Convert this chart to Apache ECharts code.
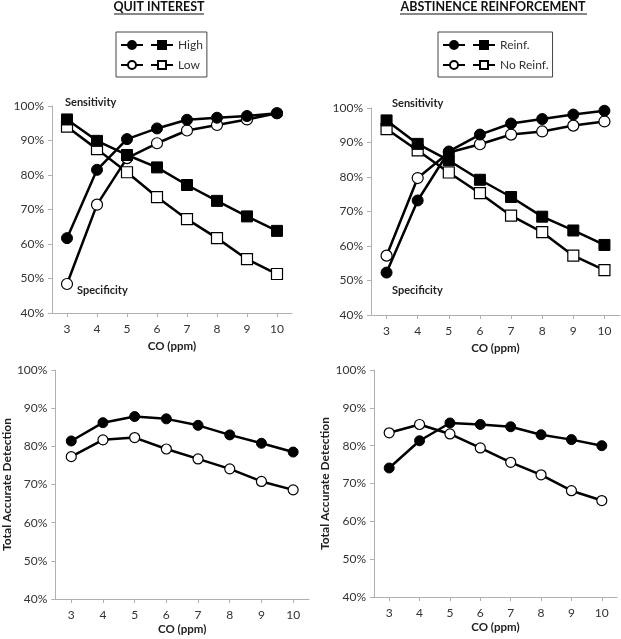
<!DOCTYPE html>
<html>
<head>
<meta charset="utf-8">
<script src="https://cdn.jsdelivr.net/npm/echarts@6/dist/echarts.min.js"></script>
<style>
  html, body { margin: 0; padding: 0; background: #fff; }
  #main { width: 621px; height: 639px; }
</style>
</head>
<body>
<div id="main"></div>
<script>
  // CO cut-off levels (ppm)
  var coLevels = ['3', '4', '5', '6', '7', '8', '9', '10'];
  var yTicks = [40, 50, 60, 70, 80, 90, 100];

  // quit interest - sensitivity / specificity
  var quitHighSens = [61.7, 81.5, 90.4, 93.5, 96.0, 96.6, 97.1, 97.9];
  var quitLowSens = [48.4, 71.4, 84.9, 89.2, 92.9, 94.5, 96.1, 97.9];
  var quitHighSpec = [96.1, 89.9, 85.8, 82.2, 77.1, 72.5, 68.0, 63.8];
  var quitLowSpec = [94.0, 87.5, 80.8, 73.6, 67.2, 61.7, 55.6, 51.3];

  // abstinence reinforcement - sensitivity / specificity
  var reinfSens = [52.3, 73.2, 87.4, 92.3, 95.5, 96.8, 98.1, 99.2];
  var noReinfSens = [57.2, 79.7, 87.1, 89.5, 92.3, 93.2, 94.9, 96.1];
  var reinfSpec = [96.4, 89.6, 84.8, 79.2, 74.2, 68.5, 64.5, 60.3];
  var noReinfSpec = [93.9, 87.7, 81.3, 75.3, 68.8, 64.0, 57.2, 53.0];

  // total accurate detection
  var quitHighTotal = [81.4, 86.2, 87.8, 87.2, 85.5, 83.0, 80.8, 78.5];
  var quitLowTotal = [77.3, 81.7, 82.3, 79.3, 76.7, 74.1, 70.8, 68.6];
  var reinfTotal = [74.1, 81.3, 86.0, 85.6, 85.0, 82.9, 81.6, 80.0];
  var noReinfTotal = [83.4, 85.6, 83.1, 79.4, 75.6, 72.3, 68.1, 65.5];

  var FONT = 'Lato, "Open Sans", sans-serif';
  var axisGray = '#b0b0b0';

  function xAxisFor(idx, gap) {
    return {
      type: 'category',
      gridIndex: idx,
      data: coLevels,
      boundaryGap: true,
      name: 'CO (ppm)',
      nameLocation: 'middle',
      nameGap: gap,
      nameTextStyle: { fontFamily: FONT, fontWeight: 'bold', fontSize: 11.5, color: '#222' },
      axisLine: { lineStyle: { color: axisGray, width: 1 } },
      axisTick: { show: true, alignWithLabel: true, length: 4, lineStyle: { color: axisGray } },
      axisLabel: { fontFamily: FONT, fontSize: 12, color: '#333', margin: 10 },
      splitLine: { show: false }
    };
  }

  function yAxisFor(idx, title) {
    return {
      type: 'value',
      gridIndex: idx,
      min: yTicks[0],
      max: yTicks[yTicks.length - 1],
      interval: 10,
      name: title || '',
      nameLocation: 'middle',
      nameGap: 40,
      nameTextStyle: { fontFamily: FONT, fontWeight: 'bold', fontSize: 12, color: '#222' },
      axisLine: { show: true, lineStyle: { color: axisGray, width: 1 } },
      axisTick: { show: true, length: 4, lineStyle: { color: axisGray } },
      axisLabel: { fontFamily: FONT, fontSize: 12, color: '#333', margin: 8, formatter: '{value}%' },
      splitLine: { show: false }
    };
  }

  function line(name, data, idx, symbol, filled, size) {
    return {
      name: name,
      type: 'line',
      xAxisIndex: idx,
      yAxisIndex: idx,
      data: data,
      symbol: symbol,
      symbolSize: size || 10,
      showAllSymbol: true,
      lineStyle: { color: '#000', width: 2.5 },
      itemStyle: filled
        ? { color: '#000', borderColor: '#000', borderWidth: 1 }
        : { color: '#fff', borderColor: '#000', borderWidth: 1.2 },
      emphasis: { disabled: true },
      z: filled ? 3 : 2
    };
  }

  var legendText = { fontFamily: FONT, fontSize: 12, color: '#333', lineHeight: 18 };

  var chart = echarts.init(document.getElementById('main'), null, { renderer: 'canvas' });
  var option = {
    animation: false,
    backgroundColor: '#fff',
    title: [
      { text: 'QUIT INTEREST', left: 159, textAlign: 'center', top: 0, padding: 0,
        textStyle: { fontFamily: FONT, fontWeight: 'bold', fontSize: 12.5, color: '#111' } },
      { text: 'ABSTINENCE REINFORCEMENT', left: 493, textAlign: 'center', top: 0, padding: 0,
        textStyle: { fontFamily: FONT, fontWeight: 'bold', fontSize: 12.5, color: '#111' } }
    ],
    legend: [
      {
        left: 116, top: 32, width: 84, orient: 'horizontal',
        padding: [4, 4, 3, 4], itemGap: 2, itemWidth: 22, itemHeight: 10,
        borderColor: '#444', borderWidth: 1,
        selectedMode: false,
        data: ['High sensitivity', 'High specificity', 'Low sensitivity', 'Low specificity'],
        formatter: function (n) {
          if (n === 'High specificity') return 'High';
          if (n === 'Low specificity') return 'Low';
          return '';
        },
        textStyle: legendText
      },
      {
        left: 438, top: 32, width: 110, orient: 'horizontal',
        padding: [4, 4, 3, 4], itemGap: 2, itemWidth: 22, itemHeight: 10,
        borderColor: '#444', borderWidth: 1,
        selectedMode: false,
        data: ['Reinf. sensitivity', 'Reinf. specificity', 'No Reinf. sensitivity', 'No Reinf. specificity'],
        formatter: function (n) {
          if (n === 'Reinf. specificity') return 'Reinf.';
          if (n === 'No Reinf. specificity') return 'No Reinf.';
          return '';
        },
        textStyle: legendText
      }
    ],
    grid: [
      { left: 52, top: 106, width: 240, height: 207 },
      { left: 371, top: 108, width: 249, height: 207 },
      { left: 53, top: 370, width: 256, height: 229 },
      { left: 374, top: 370, width: 243, height: 227 }
    ],
    xAxis: [xAxisFor(0, 27), xAxisFor(1, 27), xAxisFor(2, 24), xAxisFor(3, 24)],
    yAxis: [yAxisFor(0), yAxisFor(1), yAxisFor(2, 'Total Accurate Detection'), yAxisFor(3, 'Total Accurate Detection')],
    graphic: [
      { type: 'line', shape: { x1: 114, y1: 14, x2: 204, y2: 14 }, style: { stroke: '#111', lineWidth: 1 } },
      { type: 'line', shape: { x1: 400, y1: 14, x2: 587, y2: 14 }, style: { stroke: '#111', lineWidth: 1 } },
      { type: 'text', left: 65, top: 97, style: { text: 'Sensitivity', font: 'bold 11px ' + FONT, fill: '#222' } },
      { type: 'text', left: 77, top: 285, style: { text: 'Specificity', font: 'bold 11px ' + FONT, fill: '#222' } },
      { type: 'text', left: 392, top: 98, style: { text: 'Sensitivity', font: 'bold 11px ' + FONT, fill: '#222' } },
      { type: 'text', left: 392, top: 285, style: { text: 'Specificity', font: 'bold 11px ' + FONT, fill: '#222' } }
    ],
    series: [
      line('Low sensitivity', quitLowSens, 0, 'circle', false, 11),
      line('Low specificity', quitLowSpec, 0, 'rect', false, 11),
      line('High specificity', quitHighSpec, 0, 'rect', true, 11),
      line('High sensitivity', quitHighSens, 0, 'circle', true, 11),

      line('No Reinf. sensitivity', noReinfSens, 1, 'circle', false, 11),
      line('No Reinf. specificity', noReinfSpec, 1, 'rect', false, 11),
      line('Reinf. specificity', reinfSpec, 1, 'rect', true, 11),
      line('Reinf. sensitivity', reinfSens, 1, 'circle', true, 11),

      line('Low total', quitLowTotal, 2, 'circle', false, 10),
      line('High total', quitHighTotal, 2, 'circle', true, 10),

      line('No Reinf. total', noReinfTotal, 3, 'circle', false, 10),
      line('Reinf. total', reinfTotal, 3, 'circle', true, 10)
    ]
  };
  chart.setOption(option);
</script>
</body>
</html>
